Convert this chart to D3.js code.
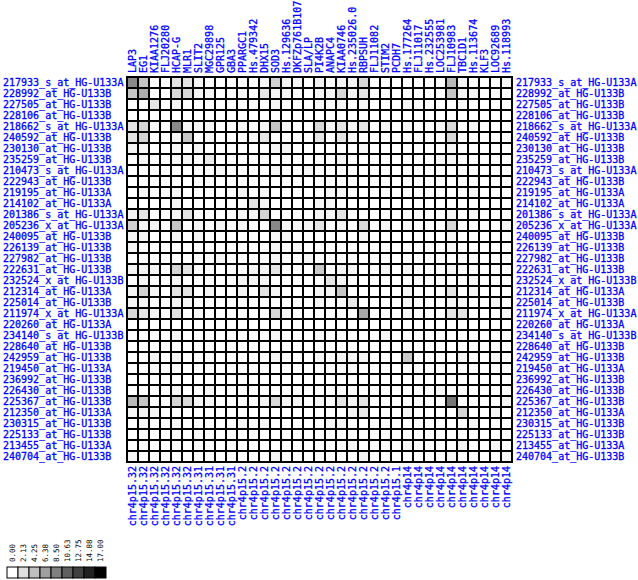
<!DOCTYPE html>
<html><head><meta charset="utf-8">
<script src="https://cdn.jsdelivr.net/npm/d3@7"></script>
<style>body{margin:0;background:#fff}svg{display:block}text{font-family:"DejaVu Sans Mono",monospace;fill:#0000ff}.lbl{stroke:#0000ff;stroke-width:0.3px}</style>
</head><body>
<svg id="chart" width="638" height="580"></svg>
<script>
const rowLabels = ["217933_s_at_HG-U133A","228992_at_HG-U133B","227505_at_HG-U133B","228106_at_HG-U133B","218662_s_at_HG-U133A","240592_at_HG-U133B","230130_at_HG-U133B","235259_at_HG-U133B","210473_s_at_HG-U133A","222943_at_HG-U133B","219195_at_HG-U133A","214102_at_HG-U133A","201386_s_at_HG-U133A","205236_x_at_HG-U133A","240095_at_HG-U133B","226139_at_HG-U133B","227982_at_HG-U133B","222631_at_HG-U133B","232524_x_at_HG-U133B","212314_at_HG-U133A","225014_at_HG-U133B","211974_x_at_HG-U133A","220260_at_HG-U133A","234140_s_at_HG-U133B","228640_at_HG-U133B","242959_at_HG-U133B","219450_at_HG-U133A","236992_at_HG-U133B","226430_at_HG-U133B","225367_at_HG-U133B","212350_at_HG-U133A","230315_at_HG-U133B","225133_at_HG-U133B","213455_at_HG-U133A","240704_at_HG-U133B"];
const colLabels = ["LAP3","EG1","KIAA1276","FLJ20280","HCAP-G","MLR1","SLIT2","MGC29898","GPR125","GBA3","PPARGC1","Hs.479342","DHX15","SOD3","Hs.129636","DKFZp761B107","SLA/LP","PI4K2B","ANAPC4","KIAA0746","Hs.235026.0","RBPSUH","FLJ11082","STIM2","PCDH7","Hs.177264","FLJ11017","Hs.232555","LOC253981","FLJ10983","TBC1D1","Hs.113674","KLF3","LOC92689","Hs.118993"];
const colLocations = ["chr4p15.32","chr4p15.32","chr4p15.32","chr4p15.32","chr4p15.32","chr4p15.32","chr4p15.31","chr4p15.31","chr4p15.31","chr4p15.31","chr4p15.2","chr4p15.2","chr4p15.2","chr4p15.2","chr4p15.2","chr4p15.2","chr4p15.2","chr4p15.2","chr4p15.2","chr4p15.2","chr4p15.2","chr4p15.2","chr4p15.2","chr4p15.2","chr4p15.1","chr4p14","chr4p14","chr4p14","chr4p14","chr4p14","chr4p14","chr4p14","chr4p14","chr4p14","chr4p14"];
const legendValues = [0.00,2.13,4.25,6.38,8.50,10.63,12.75,14.88,17.00];
// non-zero cells per row: [column, value]
const cellValues = [
 [[0,7.9],[1,3.9],[4,1.8],[5,1.8],[6,0.7],[12,0.7],[13,3.1],[14,0.7],[15,0.7],[17,1.0],[19,0.7],[20,0.7],[21,2.6],[29,4.7],[30,0.7],[34,0.7]],
 [[0,3.9],[1,5.4],[4,2.6],[5,2.6],[6,0.7],[7,0.7],[10,0.7],[12,1.8],[13,0.7],[14,0.7],[17,0.7],[18,0.7],[19,2.6],[20,0.7],[21,1.8],[29,3.9],[30,0.7],[31,0.7]],
 [[2,1.8],[4,0.7],[13,0.7],[17,0.7],[19,0.7],[21,0.7],[25,0.7],[30,0.7]],
 [],
 [[0,1.8],[1,2.9],[2,0.7],[4,7.9],[5,0.7],[6,0.7],[7,0.7],[10,0.7],[12,0.7],[13,3.9],[14,0.7],[17,2.6],[18,0.7],[19,1.8],[20,0.7],[21,1.8],[23,0.7],[25,0.7],[28,0.7],[29,2.6],[31,0.7]],
 [[0,1.8],[1,3.1],[4,0.7],[5,3.9],[7,0.7],[11,0.7],[12,1.8],[17,1.8],[19,1.8],[20,0.7],[29,2.6]],
 [[0,0.7],[1,0.7],[4,0.7],[6,0.7],[13,0.7],[14,0.7],[21,0.7],[29,0.7]],
 [[1,0.7],[4,0.7],[5,0.7],[7,1.5],[19,0.7],[28,0.7],[29,0.7]],
 [[8,0.7],[13,0.7],[16,0.7]],
 [],
 [[1,0.7],[4,0.7],[10,0.7],[12,0.7],[18,0.7],[19,0.7],[31,0.7]],
 [[4,0.7],[11,1.8],[12,0.7],[17,0.7],[18,0.7]],
 [[0,0.7],[1,1.8],[4,0.7],[5,1.8],[10,0.7],[11,0.7],[12,2.9],[17,0.7],[18,0.7],[19,1.8],[29,0.7],[31,0.7]],
 [[0,3.1],[1,0.7],[2,0.7],[4,3.9],[6,0.7],[8,0.7],[10,0.7],[13,7.9],[14,0.7],[15,0.7],[16,0.7],[17,1.8],[19,0.7],[21,2.6],[23,0.7],[25,0.7],[29,2.6],[34,0.7]],
 [[0,0.7],[1,0.7],[4,0.7],[6,0.7],[13,0.7],[14,0.7],[21,0.7],[29,0.7]],
 [[0,0.7],[13,0.7],[15,0.7],[29,0.7]],
 [[8,0.7],[13,0.7],[16,0.7]],
 [[0,0.7],[1,0.7],[2,0.7],[4,2.9],[5,1.8],[11,0.7],[12,0.7],[13,1.8],[17,3.6],[19,0.7],[20,0.7],[23,0.7],[25,0.7],[29,0.7]],
 [[1,0.7],[4,0.7],[10,0.7],[11,0.7],[12,0.7],[18,1.8],[19,0.7],[31,0.7]],
 [[0,0.7],[1,2.9],[2,0.7],[4,1.8],[5,1.8],[7,0.7],[10,0.7],[12,1.8],[13,0.7],[17,0.7],[18,0.7],[19,3.9],[25,0.7],[29,1.8],[31,0.7]],
 [[0,0.7],[1,0.7],[4,0.7],[5,0.7],[17,0.7],[20,1.5],[25,0.7],[29,0.7],[30,0.7],[33,0.7]],
 [[0,2.6],[1,1.8],[2,0.7],[4,1.8],[6,0.7],[13,2.6],[14,0.7],[21,5.8],[25,0.7],[29,1.8],[30,1.8],[34,0.7]],
 [],
 [[4,0.7],[13,0.7],[17,0.7],[23,0.7]],
 [],
 [[2,0.7],[4,0.7],[13,0.7],[17,0.7],[19,0.7],[20,0.7],[21,0.7],[25,3.6],[30,0.7],[33,0.7]],
 [],
 [],
 [[4,0.7],[7,0.7],[28,0.7]],
 [[0,4.7],[1,3.9],[4,2.9],[5,2.6],[6,0.7],[7,0.7],[12,0.7],[13,2.6],[14,0.7],[15,0.7],[17,0.7],[19,1.8],[20,0.7],[21,1.8],[29,9.1],[34,0.7]],
 [[0,0.7],[1,1.0],[2,0.7],[20,0.7],[21,1.5],[25,0.7],[30,2.9],[33,0.7]],
 [[1,0.7],[4,0.7],[10,0.7],[12,0.7],[18,0.7],[19,0.7],[31,0.7]],
 [],
 [[20,0.7],[25,0.7],[30,0.7],[33,0.7]],
 [[0,0.7],[13,0.7],[21,0.7],[29,0.7],[34,0.7]]
];

const svg = d3.select("#chart");
const nR = rowLabels.length, nC = colLabels.length;
const x = d3.scaleBand().domain(d3.range(nC)).range([127, 127 + 11 * nC]).padding(0);
const y = d3.scaleBand().domain(d3.range(nR)).range([77, 77 + 11 * nR]).padding(0);
const color = d3.scaleLinear().domain([0, 17]).range(["#ffffff", "#000000"]);

const cells = [];
rowLabels.forEach((r, i) => {
  const m = new Map(cellValues[i]);
  colLabels.forEach((c, j) => cells.push({ i, j, v: m.has(j) ? m.get(j) : 0 }));
});

svg.append("g").selectAll("rect").data(cells).join("rect")
  .attr("x", d => x(d.j)).attr("y", d => y(d.i))
  .attr("width", x.bandwidth()).attr("height", y.bandwidth())
  .attr("fill", d => color(d.v))
  .attr("stroke", "#000").attr("stroke-width", 2);

// left row labels
svg.append("g").selectAll("text").data(rowLabels).join("text")
  .attr("class", "lbl")
  .attr("x", 3).attr("y", (d, i) => y(i) + y.bandwidth() / 2).attr("dy", "0.35em")
  .style("font-size", "10px").text(d => d);
// right row labels
svg.append("g").selectAll("text").data(rowLabels).join("text")
  .attr("class", "lbl")
  .attr("x", 516).attr("y", (d, i) => y(i) + y.bandwidth() / 2).attr("dy", "0.35em")
  .style("font-size", "10px").text(d => d);
// top column labels
svg.append("g").selectAll("text").data(colLabels).join("text")
  .attr("class", "lbl")
  .attr("transform", (d, j) => `translate(${x(j) + x.bandwidth() / 2},73) rotate(-90)`)
  .attr("dy", "0.35em").style("font-size", "10px").text(d => d);
// bottom location labels
svg.append("g").selectAll("text").data(colLocations).join("text")
  .attr("class", "lbl")
  .attr("transform", (d, j) => `translate(${x(j) + x.bandwidth() / 2},466) rotate(-90)`)
  .attr("text-anchor", "end").attr("dy", "0.35em").style("font-size", "10px").text(d => d);

// legend
const lx = d3.scaleBand().domain(d3.range(legendValues.length)).range([7, 7 + 11 * legendValues.length]);
const lg = svg.append("g");
lg.selectAll("rect").data(legendValues).join("rect")
  .attr("x", (d, i) => lx(i)).attr("y", 567).attr("width", lx.bandwidth()).attr("height", 11)
  .attr("fill", d => color(d)).attr("stroke", "#000").attr("stroke-width", 1);
lg.selectAll("text").data(legendValues).join("text")
  .attr("transform", (d, i) => `translate(${lx(i) + lx.bandwidth() / 2},562) rotate(-90)`)
  .attr("dy", "0.35em").style("font-size", "7.5px").style("fill", "#000")
  .text(d => d.toFixed(2));
</script>
</body></html>
